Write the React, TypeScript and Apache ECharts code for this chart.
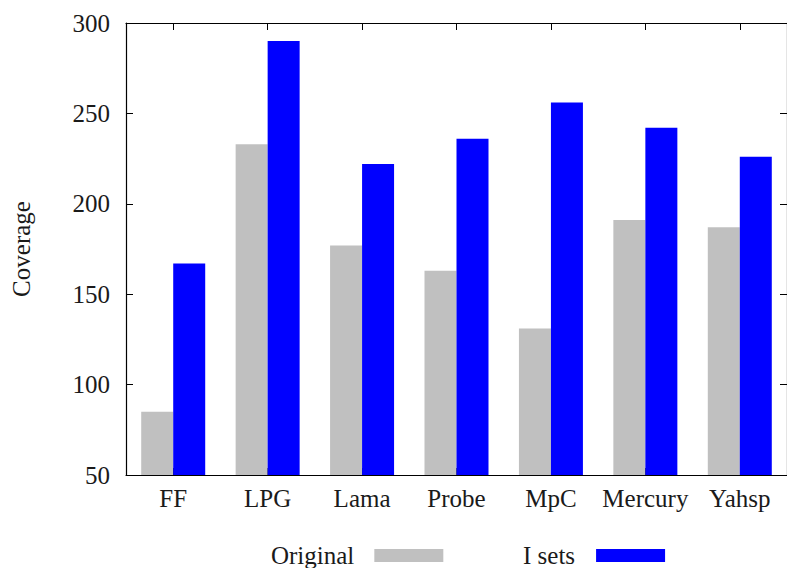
import React, { useEffect, useRef } from "react";
import * as echarts from "echarts";

const categories = ["FF", "LPG", "Lama", "Probe", "MpC", "Mercury", "Yahsp"];
const originalValues = [85, 233, 177, 163, 131, 191, 187];
const isetsValues = [167, 290, 222, 236, 256, 242, 226];
const yMin = 50;
const yMax = 300;
const yInterval = 50;

const FONT = "'Liberation Serif', 'Times New Roman', serif";
const TEXT = "#1a1a1a";

export default function App() {
  const ref = useRef<HTMLDivElement>(null);
  useEffect(() => {
    if (!ref.current) return;
    const chart = echarts.init(ref.current, undefined, { renderer: "svg" });
    const tickStyle = { color: "#000", width: 1 };
    const legendCommon = {
      top: 543,
      align: "right",
      icon: "rect",
      itemWidth: 69,
      itemHeight: 13,
      padding: 0,
    };
    chart.setOption({
      animation: false,
      backgroundColor: "#fff",
      textStyle: { fontFamily: FONT },
      grid: { left: 126, top: 23, width: 664, height: 452, containLabel: false },
      legend: [
        {
          ...legendCommon,
          data: ["Original"],
          left: 271,
          textStyle: { fontFamily: FONT, fontSize: 25, color: TEXT, padding: [0, 15, 0, 0] },
        },
        {
          ...legendCommon,
          data: ["I sets"],
          left: 523,
          textStyle: { fontFamily: FONT, fontSize: 25, color: TEXT, padding: [0, 16, 0, 0] },
        },
      ],
      xAxis: [
        {
          type: "category",
          data: categories,
          position: "bottom",
          axisLine: { show: true, lineStyle: { color: "#000", width: 1.2 } },
          axisTick: { show: true, inside: true, alignWithLabel: true, length: 7, lineStyle: tickStyle },
          axisLabel: { fontFamily: FONT, fontSize: 25, color: TEXT, margin: 11, interval: 0 },
          splitLine: { show: false },
        },
        {
          type: "category",
          data: categories,
          position: "top",
          axisLine: { show: true, lineStyle: { color: "#000", width: 1.2 } },
          axisTick: { show: true, inside: true, alignWithLabel: true, length: 7, lineStyle: tickStyle, interval: 0 },
          axisLabel: { show: false },
          splitLine: { show: false },
        },
      ],
      yAxis: [
        {
          type: "value",
          min: yMin,
          max: yMax,
          interval: yInterval,
          position: "left",
          name: "Coverage",
          nameLocation: "middle",
          nameGap: 92,
          nameTextStyle: { fontFamily: FONT, fontSize: 25, color: TEXT },
          axisLine: { show: true, lineStyle: { color: "#000", width: 1.2 } },
          axisTick: { show: true, inside: true, length: 7, lineStyle: tickStyle },
          axisLabel: { fontFamily: FONT, fontSize: 25, color: TEXT, margin: 16 },
          splitLine: { show: false },
        },
        {
          type: "value",
          min: yMin,
          max: yMax,
          interval: yInterval,
          position: "right",
          axisLine: { show: true, lineStyle: { color: "#000", width: 1.2 } },
          axisTick: { show: true, inside: true, length: 7, lineStyle: tickStyle },
          axisLabel: { show: false },
          splitLine: { show: false },
        },
      ],
      series: [
        {
          name: "Original",
          type: "bar",
          data: originalValues,
          barWidth: 32,
          barGap: "0%",
          itemStyle: { color: "#c0c0c0" },
        },
        {
          name: "I sets",
          type: "bar",
          data: isetsValues,
          barWidth: 32,
          barGap: "0%",
          itemStyle: { color: "#0000ff" },
        },
      ],
    });
    return () => chart.dispose();
  }, []);
  return (
    <div
      ref={ref}
      style={{ position: "fixed", left: 0, top: 0, width: 787, height: 568, background: "#fff" }}
    />
  );
}
